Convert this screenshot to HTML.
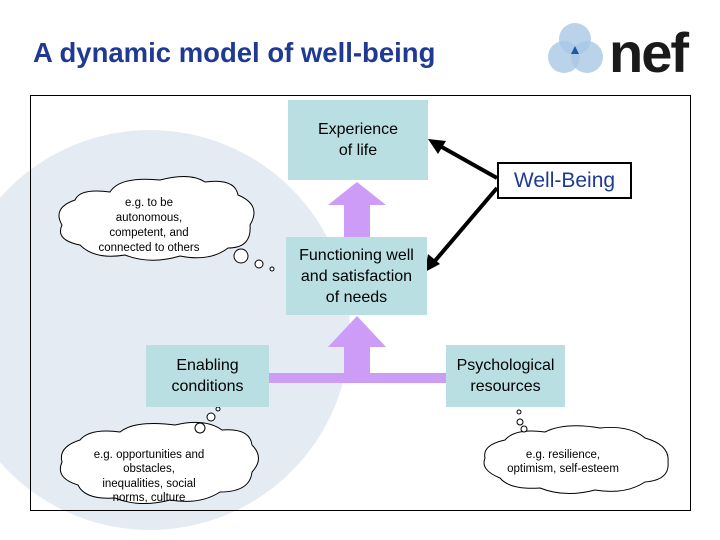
<!DOCTYPE html>
<html><head><style>
body{margin:0;width:720px;height:540px;overflow:hidden;background:#fff;font-family:"Liberation Sans",sans-serif;position:relative}
.t{position:absolute;left:33px;top:37px;font-size:27.5px;font-weight:bold;color:#1f3a93}
.b{position:absolute;background:#b9dfe2;display:flex;align-items:center;justify-content:center;text-align:center;font-size:16px;line-height:21px;color:#000}
</style></head><body>
<svg width="720" height="540" style="position:absolute;left:0;top:0">
<circle cx="150" cy="330" r="200" fill="#e5ebf3"/>
<rect x="30.5" y="95.5" width="660" height="415" fill="none" stroke="#000"/>
<!-- logo -->
<circle cx="575" cy="39" r="16" fill="#a9c8e6" opacity=".8"/>
<circle cx="564" cy="57" r="16" fill="#a9c8e6" opacity=".8"/>
<circle cx="587" cy="57" r="16" fill="#a9c8e6" opacity=".8"/>
<path d="M575 46 L579 54 L571 54Z" fill="#1b5aa0"/>
<text x="609" y="72" font-family="Liberation Sans" font-weight="bold" font-size="56" fill="#1a1a1a" letter-spacing="-2">nef</text>
<g fill="#cc9cf6">
<rect x="265" y="373" width="185" height="10"/>
<rect x="344" y="345" width="26" height="30"/>
<path d="M328 347 L357 316 L386 347Z"/>
<rect x="344" y="203" width="26" height="36"/>
<path d="M328 205 L357 182 L386 205Z"/>
</g>
<g stroke="#000" stroke-width="4">
<line x1="497" y1="178" x2="440" y2="146"/>
<line x1="497" y1="188" x2="434" y2="262"/>
</g>
<path d="M428 139 L446 141 L438 154Z" fill="#000"/>
<path d="M425 272 L428 254 L440 264Z" fill="#000"/>
<g fill="#fff" stroke="#000" stroke-width="1">
<path d="M75 200 Q80 188 110 192 Q120 176 160 180 Q190 172 205 182 Q235 178 238 195 Q262 205 250 225 Q252 248 228 248 Q210 262 180 256 Q150 265 125 255 Q95 260 80 245 Q55 240 62 225 Q52 208 75 200Z"/>
<circle cx="241" cy="256" r="7"/><circle cx="259" cy="264" r="4"/><circle cx="272" cy="269" r="2"/>
<path d="M80 440 Q90 428 120 432 Q135 420 175 425 Q205 418 222 430 Q250 428 252 445 Q265 458 252 472 Q250 492 220 492 Q200 505 170 500 Q140 508 115 498 Q85 500 78 485 Q55 478 62 462 Q58 447 80 440Z"/>
<circle cx="200" cy="428" r="5"/><circle cx="211" cy="417" r="4"/><circle cx="218" cy="409" r="2"/>
<path d="M505 440 Q515 428 545 432 Q565 422 600 428 Q630 425 645 438 Q670 445 668 462 Q670 480 645 482 Q625 495 595 490 Q565 498 540 488 Q510 490 500 478 Q480 470 485 458 Q482 445 505 440Z"/>
<circle cx="520" cy="422" r="3"/><circle cx="524" cy="429" r="3"/><circle cx="519" cy="412" r="2"/>
</g>
<g font-family="Liberation Sans" font-size="11.5" text-anchor="middle" fill="#000">
<text x="149" y="206">e.g. to be</text><text x="149" y="221">autonomous,</text><text x="149" y="236">competent, and</text><text x="149" y="251">connected to others</text>
<text x="149" y="458">e.g. opportunities and</text><text x="149" y="472">obstacles,</text><text x="149" y="487">inequalities, social</text><text x="149" y="501">norms, culture</text>
<text x="563" y="458">e.g. resilience,</text><text x="563" y="472">optimism, self-esteem</text>
</g>
</svg>
<div class="t">A dynamic model of well-being</div>
<div class="b" style="left:288px;top:100px;width:140px;height:80px">Experience<br>of life</div>
<div class="b" style="left:286px;top:237px;width:141px;height:78px">Functioning well<br>and satisfaction<br>of needs</div>
<div class="b" style="left:146px;top:345px;width:123px;height:62px">Enabling<br>conditions</div>
<div class="b" style="left:446px;top:345px;width:119px;height:62px">Psychological<br>resources</div>
<div style="position:absolute;left:497px;top:162px;width:131px;height:33px;border:2px solid #000;background:#fff;color:#1f3a93;font-size:21px;text-align:center;line-height:33px">Well-Being</div>
</body></html>
